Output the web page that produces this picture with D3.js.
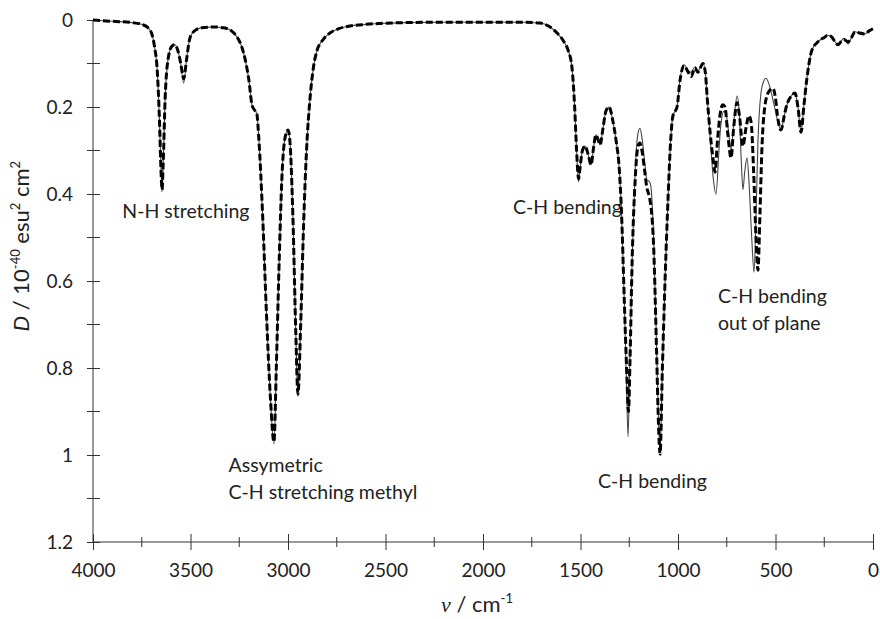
<!DOCTYPE html>
<html>
<head>
<meta charset="utf-8">
<script src="https://cdn.jsdelivr.net/npm/d3@7"></script>
<style>
  body { margin: 0; background: #fff; }
  text { font-family: Lato, "Open Sans", sans-serif; fill: #222; }
</style>
</head>
<body>
<div class="chart"></div>
<script>
// computed spectrum (thin solid line): wavenumber / cm-1 and D
var solidWn = [4000, 3900, 3800, 3750, 3720, 3700, 3685, 3670, 3660, 3650, 3646, 3640, 3630, 3615, 3595, 3580, 3565, 3550, 3535, 3520, 3505, 3490, 3470, 3430, 3380, 3330, 3290, 3260, 3240, 3220, 3200, 3185, 3175, 3160, 3150, 3130, 3110, 3090, 3072, 3060, 3045, 3030, 3015, 3000, 2990, 2975, 2960, 2949, 2935, 2920, 2905, 2887, 2870, 2851, 2820, 2785, 2740, 2697, 2600, 2528, 2400, 2200, 2000, 1800, 1708, 1660, 1620, 1585, 1564, 1544, 1530, 1520, 1510, 1500, 1490, 1477, 1460, 1446, 1432, 1421, 1410, 1400, 1385, 1370, 1354, 1335, 1318, 1300, 1290, 1275, 1265, 1256, 1248, 1235, 1220, 1205, 1195, 1185, 1170, 1160, 1150, 1140, 1125, 1110, 1100, 1092, 1080, 1065, 1051, 1038, 1026, 1005, 990, 969, 950, 933, 913, 898, 872, 860, 850, 835, 820, 805, 790, 780, 765, 754, 740, 728, 715, 697, 685, 675, 667, 658, 646, 635, 622, 610, 600, 590, 575, 560, 549, 535, 520, 505, 490, 472, 455, 445, 420, 400, 385, 369, 355, 340, 313, 282, 250, 231, 210, 195, 179, 165, 150, 128, 110, 92, 70, 41, 20, 0];
var solidD = [0, 0.003, 0.006, 0.010, 0.017, 0.030, 0.060, 0.12, 0.22, 0.36, 0.395, 0.33, 0.18, 0.09, 0.06, 0.057, 0.07, 0.10, 0.145, 0.09, 0.045, 0.03, 0.022, 0.017, 0.016, 0.018, 0.025, 0.040, 0.058, 0.09, 0.14, 0.195, 0.205, 0.215, 0.27, 0.45, 0.68, 0.87, 0.975, 0.8, 0.55, 0.35, 0.27, 0.253, 0.28, 0.45, 0.72, 0.865, 0.70, 0.47, 0.30, 0.18, 0.11, 0.07, 0.045, 0.03, 0.02, 0.015, 0.01, 0.008, 0.006, 0.005, 0.005, 0.005, 0.007, 0.015, 0.03, 0.05, 0.069, 0.108, 0.2, 0.3, 0.372, 0.33, 0.30, 0.29, 0.31, 0.333, 0.29, 0.264, 0.275, 0.287, 0.25, 0.21, 0.2, 0.23, 0.276, 0.35, 0.44, 0.65, 0.82, 0.958, 0.8, 0.55, 0.35, 0.26, 0.249, 0.27, 0.33, 0.368, 0.37, 0.38, 0.5, 0.75, 0.92, 0.99, 0.8, 0.58, 0.41, 0.28, 0.22, 0.2, 0.138, 0.103, 0.115, 0.12, 0.108, 0.117, 0.1, 0.12, 0.18, 0.27, 0.36, 0.40, 0.3, 0.24, 0.21, 0.215, 0.26, 0.30, 0.24, 0.175, 0.22, 0.33, 0.39, 0.35, 0.317, 0.38, 0.5, 0.58, 0.45, 0.28, 0.17, 0.14, 0.134, 0.145, 0.17, 0.2, 0.23, 0.253, 0.22, 0.2, 0.175, 0.168, 0.2, 0.258, 0.2, 0.138, 0.069, 0.05, 0.04, 0.035, 0.04, 0.05, 0.057, 0.05, 0.042, 0.055, 0.04, 0.027, 0.03, 0.032, 0.025, 0.02];

// thick dashed spectrum
var dashWn = [4000, 3900, 3800, 3750, 3720, 3700, 3685, 3670, 3660, 3650, 3646, 3640, 3630, 3615, 3595, 3580, 3565, 3550, 3535, 3520, 3505, 3490, 3470, 3430, 3380, 3330, 3290, 3260, 3240, 3220, 3200, 3185, 3175, 3160, 3150, 3130, 3110, 3090, 3072, 3060, 3045, 3030, 3015, 3000, 2990, 2975, 2960, 2949, 2935, 2920, 2905, 2887, 2870, 2851, 2820, 2785, 2740, 2697, 2600, 2528, 2400, 2200, 2000, 1800, 1708, 1660, 1620, 1585, 1564, 1544, 1530, 1520, 1510, 1500, 1490, 1477, 1460, 1446, 1432, 1421, 1410, 1400, 1385, 1370, 1354, 1335, 1318, 1300, 1290, 1275, 1262, 1254, 1246, 1235, 1220, 1205, 1195, 1185, 1170, 1160, 1154, 1145, 1125, 1110, 1100, 1092, 1080, 1065, 1051, 1038, 1026, 1005, 990, 969, 950, 933, 913, 898, 872, 860, 850, 835, 820, 810, 798, 785, 770, 759, 745, 728, 715, 697, 685, 667, 652, 636, 625, 612, 600, 590, 580, 570, 555, 535, 513, 500, 490, 472, 455, 445, 420, 400, 385, 369, 355, 340, 313, 282, 250, 231, 210, 195, 179, 165, 150, 128, 110, 92, 70, 41, 20, 0];
var dashD = [0, 0.003, 0.006, 0.010, 0.017, 0.030, 0.060, 0.12, 0.22, 0.36, 0.39, 0.33, 0.18, 0.09, 0.06, 0.057, 0.07, 0.10, 0.135, 0.09, 0.045, 0.03, 0.022, 0.017, 0.016, 0.018, 0.025, 0.040, 0.058, 0.09, 0.14, 0.195, 0.205, 0.215, 0.27, 0.45, 0.68, 0.87, 0.97, 0.8, 0.55, 0.35, 0.27, 0.253, 0.28, 0.45, 0.72, 0.86, 0.70, 0.47, 0.30, 0.18, 0.11, 0.07, 0.045, 0.03, 0.02, 0.015, 0.01, 0.008, 0.006, 0.005, 0.005, 0.005, 0.007, 0.015, 0.03, 0.05, 0.069, 0.108, 0.2, 0.3, 0.365, 0.33, 0.30, 0.29, 0.31, 0.333, 0.29, 0.264, 0.275, 0.287, 0.25, 0.21, 0.2, 0.23, 0.276, 0.35, 0.44, 0.65, 0.82, 0.9, 0.78, 0.55, 0.37, 0.29, 0.283, 0.3, 0.35, 0.385, 0.395, 0.41, 0.52, 0.76, 0.93, 0.998, 0.8, 0.58, 0.41, 0.28, 0.22, 0.2, 0.14, 0.105, 0.118, 0.13, 0.11, 0.12, 0.1, 0.12, 0.18, 0.26, 0.32, 0.35, 0.28, 0.22, 0.195, 0.2, 0.26, 0.317, 0.25, 0.19, 0.22, 0.29, 0.25, 0.22, 0.235, 0.35, 0.5, 0.575, 0.45, 0.3, 0.2, 0.165, 0.157, 0.18, 0.22, 0.253, 0.22, 0.2, 0.175, 0.168, 0.2, 0.258, 0.2, 0.138, 0.069, 0.05, 0.04, 0.035, 0.04, 0.05, 0.057, 0.05, 0.045, 0.05, 0.04, 0.027, 0.03, 0.032, 0.025, 0.02];

var xTicks = [4000, 3500, 3000, 2500, 2000, 1500, 1000, 500, 0];
var yTicks = [0, 0.2, 0.4, 0.6, 0.8, 1, 1.2];

var notes = [
    { lines: ['N-H stretching'], wn: 3850, d: 0.455 },
    { lines: ['Assymetric', 'C-H stretching methyl'], wn: 3305, d: 1.04 },
    { lines: ['C-H bending'], wn: 1846, d: 0.445 },
    { lines: ['C-H bending'], wn: 1410, d: 1.075 },
    { lines: ['C-H bending', 'out of plane'], wn: 795, d: 0.65 }
];

var margin = { top: 20, right: 7, bottom: 77, left: 93 };
var width = 880 - margin.left - margin.right;
var height = 619 - margin.top - margin.bottom;

var svg = d3.select('.chart')
    .append('svg')
    .attr('width', 880)
    .attr('height', 619)
    .append('g')
    .attr('transform', 'translate(' + margin.left + ', ' + margin.top + ')');

var xScale = d3.scaleLinear().domain([4000, 0]).range([0, width]);
var yScale = d3.scaleLinear().domain([0, 1.2]).range([0, height]);

// minor ticks crossing the axes
var yMinor = d3.range(0.1, 1.2, 0.2);
svg.selectAll('.yminor')
    .data(yMinor)
    .enter()
    .append('line')
    .attr('x1', -6).attr('x2', 7)
    .attr('y1', d => yScale(d)).attr('y2', d => yScale(d))
    .attr('stroke', '#333');

var xMinor = d3.range(3750, 0, -500);
svg.selectAll('.xminor')
    .data(xMinor)
    .enter()
    .append('line')
    .attr('x1', d => xScale(d)).attr('x2', d => xScale(d))
    .attr('y1', height - 5).attr('y2', height + 5)
    .attr('stroke', '#333');

var yAxis = d3.axisLeft(yScale)
    .tickValues(yTicks)
    .tickSize(6)
    .tickPadding(14)
    .tickFormat(d3.format('~g'));
var gy = svg.append('g').call(yAxis);
gy.select('.domain').remove();
gy.append('line').attr('x1', 0).attr('x2', 0).attr('y1', 0).attr('y2', height).attr('stroke', '#333');
gy.selectAll('.tick line').attr('x1', 7).attr('x2', -6).attr('stroke', '#333');
gy.selectAll('.tick text').style('font-size', '19px').attr('dy', '0.35em').attr('fill', '#222');

var xAxis = d3.axisBottom(xScale)
    .tickValues(xTicks)
    .tickSize(8)
    .tickPadding(14)
    .tickFormat(d3.format('d'));
var gx = svg.append('g').attr('transform', `translate(0, ${height})`).call(xAxis);
gx.select('.domain').remove();
gx.append('line').attr('x1', 0).attr('x2', width).attr('stroke', '#333');
gx.selectAll('.tick line').attr('y1', -8).attr('y2', 8).attr('stroke', '#333');
gx.selectAll('.tick text').style('font-size', '19px').attr('fill', '#222');

var line = d3.line()
    .x(d => xScale(d[0]))
    .y(d => yScale(d[1]))
    .curve(d3.curveMonotoneX);

svg.append('path')
    .datum(d3.zip(solidWn, solidD))
    .attr('fill', 'none')
    .attr('stroke', '#444')
    .attr('stroke-width', 1.1)
    .attr('d', line);

svg.append('path')
    .datum(d3.zip(dashWn, dashD))
    .attr('fill', 'none')
    .attr('stroke', '#000')
    .attr('stroke-width', 3)
    .attr('stroke-dasharray', '7,3')
    .attr('d', line);

// annotations
notes.forEach(n => {
    var t = svg.append('text')
        .attr('x', xScale(n.wn))
        .attr('y', yScale(n.d))
        .style('font-size', '19.5px');
    n.lines.forEach((s, i) => {
        t.append('tspan')
            .attr('x', xScale(n.wn))
            .attr('dy', i === 0 ? 0 : 27)
            .text(s);
    });
});

// axis titles
var xt = svg.append('text')
    .attr('x', width / 2 - 6)
    .attr('y', height + 70)
    .attr('text-anchor', 'middle')
    .style('font-size', '22px');
xt.append('tspan').style('font-family', '"Liberation Serif", serif').style('font-style', 'italic').text('ν');
xt.append('tspan').text(' / cm');
xt.append('tspan').attr('dy', -9).style('font-size', '13px').text('-1');

var yt = svg.append('text')
    .attr('transform', `translate(${-64}, ${yScale(0.52)}) rotate(-90)`)
    .attr('text-anchor', 'middle')
    .style('font-size', '22px');
yt.append('tspan').style('font-style', 'italic').text('D');
yt.append('tspan').text(' / 10');
yt.append('tspan').attr('dy', -9).style('font-size', '13px').text('-40');
yt.append('tspan').attr('dy', 9).text(' esu');
yt.append('tspan').attr('dy', -9).style('font-size', '13px').text('2');
yt.append('tspan').attr('dy', 9).text(' cm');
yt.append('tspan').attr('dy', -9).style('font-size', '13px').text('2');
</script>
</body>
</html>
